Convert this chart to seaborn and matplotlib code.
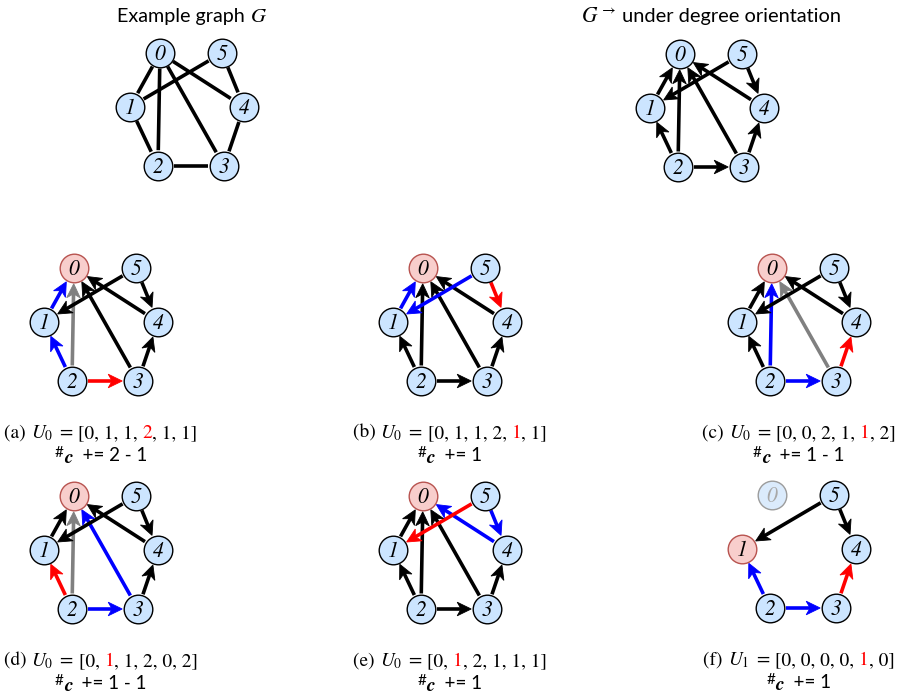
import numpy as np
import pandas as pd
import matplotlib
matplotlib.use("Agg")
import matplotlib.pyplot as plt
from matplotlib.patches import Polygon
import seaborn as sns

# ---------------- data ----------------
node_ids = [0, 1, 2, 3, 4, 5]
undirected_edges = [(0, 1), (0, 2), (0, 3), (0, 4), (5, 1), (1, 2), (2, 3), (3, 4), (5, 4)]
oriented_edges = [(1, 0), (2, 0), (3, 0), (4, 0), (5, 1), (2, 1), (2, 3), (3, 4), (5, 4)]

panel_letters = ["a", "b", "c", "d", "e", "f"]
panel_round = [0, 0, 0, 0, 0, 1]
panel_vectors = [
    [0, 1, 1, 2, 1, 1],
    [0, 1, 1, 2, 1, 1],
    [0, 0, 2, 1, 1, 2],
    [0, 1, 1, 2, 0, 2],
    [0, 1, 2, 1, 1, 1],
    [0, 0, 0, 0, 1, 0],
]
panel_red_index = [3, 4, 4, 1, 1, 4]
panel_count = ["2 - 1", "1", "1 - 1", "1 - 1", "1", "1"]
panel_root = [0, 0, 0, 0, 0, 1]
panel_removed = [[], [], [], [], [], [0]]
panel_edge_colors = [
    {(1, 0): "blue", (2, 1): "blue", (2, 0): "gray", (2, 3): "red"},
    {(1, 0): "blue", (5, 1): "blue", (5, 4): "red"},
    {(2, 0): "blue", (2, 3): "blue", (3, 0): "gray", (3, 4): "red"},
    {(2, 3): "blue", (3, 0): "blue", (2, 0): "gray", (2, 1): "red"},
    {(5, 4): "blue", (4, 0): "blue", (5, 1): "red"},
    {(2, 1): "blue", (2, 3): "blue", (3, 4): "red"},
]

# ---------------- layout & style ----------------
W, H = 898, 697
LAYOUT = {0: (0, 0), 1: (-30, 54), 2: (-2, 113), 3: (64, 113), 4: (84, 54), 5: (62, 0)}
TOP_ANCHORS = [(160, 53), (680, 54)]
PANEL_ANCHORS = [(74, 268), (423, 268), (772, 268), (74, 496), (423, 496), (772, 495)]

R = 15.0            # node radius (px)
NODE_LW = 1.4       # node border (px)
EDGE_LW = 3.6       # edge width (px)
HEAD_L, HEAD_W = 14.0, 6.8
PX = 0.72           # points per pixel at 100 dpi

COLORS = {"black": "#000000", "blue": "#0000ff", "red": "#ff0000", "gray": "#808080"}
NODE_STYLES = {
    "normal": dict(fill="#cce5ff", edge="#000000", label="#000000"),
    "root": dict(fill="#f8cecc", edge="#b85450", label="#000000"),
    "removed": dict(fill="#dbebfc", edge="#9c9c9c", label="#a8a8a8"),
}

sns.set_theme(style="white")
plt.rcParams["mathtext.fontset"] = "stix"
plt.rcParams["font.family"] = ["Lato", "DejaVu Sans"]

fig = plt.figure(figsize=(W / 100, H / 100), dpi=100)
ax = fig.add_axes([0, 0, 1, 1])


def node_xy(anchor, n):
    return np.array([anchor[0] + LAYOUT[n][0], anchor[1] + LAYOUT[n][1]], dtype=float)


def draw_edge(p, q, color, directed):
    d = q - p
    u = d / np.hypot(*d)
    start = p + u * (R + 0.5)
    tip = q - u * (R + 0.8)
    end = tip
    if directed:
        n = np.array([-u[1], u[0]])
        back = tip - u * HEAD_L
        notch = tip - u * HEAD_L * 0.72
        ax.add_patch(Polygon([tip, back + n * HEAD_W, notch, back - n * HEAD_W],
                             closed=True, fc=color, ec=color, lw=0.6,
                             joinstyle="miter", zorder=2))
        end = notch + u * 1.0
    ax.plot([start[0], end[0]], [start[1], end[1]], color=color,
            lw=EDGE_LW * PX, solid_capstyle="butt", zorder=1)


node_rows = []


def draw_graph(anchor, edges, directed, edge_colors=None, root=None, removed=()):
    edge_colors = edge_colors or {}
    for a, b in edges:
        if a in removed or b in removed:
            continue
        draw_edge(node_xy(anchor, a), node_xy(anchor, b),
                  COLORS[edge_colors.get((a, b), "black")], directed)
    for n in node_ids:
        x, y = node_xy(anchor, n)
        state = "removed" if n in removed else ("root" if n == root else "normal")
        node_rows.append({"x": x, "y": y, "state": state})
        ax.text(x, y + 6.8, str(n), ha="center", va="baseline",
                family="STIXGeneral", style="italic", fontsize=15.5,
                color=NODE_STYLES[state]["label"], zorder=5)


draw_graph(TOP_ANCHORS[0], undirected_edges, False)
draw_graph(TOP_ANCHORS[1], oriented_edges, True)
for i in range(6):
    draw_graph(PANEL_ANCHORS[i], oriented_edges, True, panel_edge_colors[i],
               panel_root[i], panel_removed[i])

nodes = pd.DataFrame(node_rows)
marker_area = ((2 * R - NODE_LW) * PX) ** 2
for state, st in NODE_STYLES.items():
    sub = nodes[nodes["state"] == state]
    if len(sub):
        sns.scatterplot(data=sub, x="x", y="y", s=marker_area, color=st["fill"],
                        edgecolor=st["edge"], linewidth=NODE_LW * PX,
                        ax=ax, zorder=4, legend=False)

ax.set_xlim(0, W)
ax.set_ylim(H, 0)
ax.axis("off")

fig.canvas.draw()
renderer = fig.canvas.get_renderer()


def piece_width(s, props):
    if "$" in s:
        t = ax.text(0, 0, s, **props)
        w = t.get_window_extent(renderer).width
        t.remove()
        return w
    t = ax.text(0, 0, "|" + s + "|", **props)
    w = t.get_window_extent(renderer).width
    t.remove()
    t = ax.text(0, 0, "||", **props)
    w0 = t.get_window_extent(renderer).width
    t.remove()
    return w - w0


def rich_text(cx, y, pieces):
    """pieces: (text, props, dy) drawn left to right, centred on cx."""
    widths = [piece_width(s, p) for s, p, _ in pieces]
    x = cx - sum(widths) / 2
    for (s, p, dy), w in zip(pieces, widths):
        ax.text(x, y + dy, s, ha="left", va="baseline", **p)
        x += w


serif = dict(family="STIXGeneral", fontsize=13.9, color="black")
serif_red = dict(serif, color=COLORS["red"])
sans = dict(family=["Lato", "DejaVu Sans"], fontsize=13.5, color="black")

# titles
rich_text(TOP_ANCHORS[0][0] + 32, 22, [("Example graph ", dict(sans, fontsize=14.2), 0),
                                       ("$G$", dict(serif, fontsize=15), 0)])
rich_text(TOP_ANCHORS[1][0] + 31, 22, [("$G^{\\rightarrow}$", dict(serif, fontsize=15.5), 0),
                                       (" under degree orientation", dict(sans, fontsize=14.4), 0)])

# captions
for i in range(6):
    ax0, ay0 = PANEL_ANCHORS[i]
    cx = ax0 + 27
    vals = panel_vectors[i]
    k = panel_red_index[i]
    before = ", ".join(str(v) for v in vals[:k])
    after = ", ".join(str(v) for v in vals[k + 1:])
    pieces = [("(%s) " % panel_letters[i], serif, 0),
              ("$U_%d\\;=$" % panel_round[i], serif, 0),
              (" [" + before + (", " if before else ""), serif, 0),
              (str(vals[k]), serif_red, 0),
              ((", " + after if after else "") + "]", serif, 0)]
    rich_text(cx, ay0 + 170, pieces)
    rich_text(cx, ay0 + 193, [("#", dict(sans, fontsize=11), -4),
                              ("c", dict(family="STIXGeneral", fontsize=14, style="italic",
                                         weight="bold", color="black"), 2),
                              ("  += " + panel_count[i], sans, 0)])

fig.savefig("out.png", dpi=100)
